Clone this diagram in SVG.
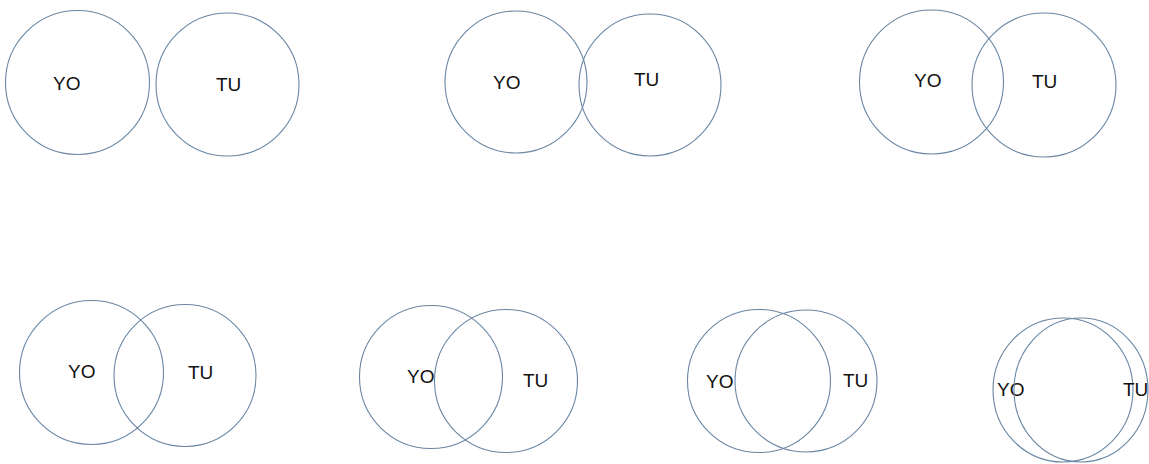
<svg xmlns="http://www.w3.org/2000/svg" width="1149" height="464" viewBox="0 0 1149 464">
<style>
.c{fill:none;stroke:#6a86a3;stroke-width:1.1}
.t{font-family:"Liberation Sans",Arial,sans-serif;font-size:19px;fill:#111}
</style>
<rect width="1149" height="464" fill="#fff"/>
<g id="connectors"/>
<g id="pair1">
<g id="p1-yo"><circle class="c" cx="77.5" cy="82.5" r="72"/><text class="t" x="53" y="90">YO</text></g>
<g id="p1-tu"><circle class="c" cx="227.5" cy="84.5" r="71.5"/><text class="t" x="216" y="91">TU</text></g>
</g>
<g id="pair2">
<g id="p2-yo"><circle class="c" cx="516" cy="82" r="71"/><text class="t" x="493" y="89">YO</text></g>
<g id="p2-tu"><circle class="c" cx="650" cy="85" r="71"/><text class="t" x="634" y="86">TU</text></g>
</g>
<g id="pair3">
<g id="p3-yo"><circle class="c" cx="931.5" cy="82" r="72"/><text class="t" x="914" y="87">YO</text></g>
<g id="p3-tu"><circle class="c" cx="1044" cy="85" r="72"/><text class="t" x="1032" y="88">TU</text></g>
</g>
<g id="pair4">
<g id="p4-yo"><circle class="c" cx="91.5" cy="372.5" r="72"/><text class="t" x="68" y="378">YO</text></g>
<g id="p4-tu"><circle class="c" cx="185" cy="375.5" r="71"/><text class="t" x="188" y="379">TU</text></g>
</g>
<g id="pair5">
<g id="p5-yo"><circle class="c" cx="431" cy="377" r="71.5"/><text class="t" x="407" y="383">YO</text></g>
<g id="p5-tu"><circle class="c" cx="506" cy="381" r="71.5"/><text class="t" x="523" y="387">TU</text></g>
</g>
<g id="pair6">
<g id="p6-yo"><circle class="c" cx="759" cy="381" r="71.5"/><text class="t" x="706" y="388">YO</text></g>
<g id="p6-tu"><circle class="c" cx="806" cy="381" r="71"/><text class="t" x="843" y="387">TU</text></g>
</g>
<g id="pair7">
<g id="p7-yo"><ellipse class="c" cx="1063" cy="390" rx="70" ry="72"/><text class="t" x="997" y="396">YO</text></g>
<g id="p7-tu"><ellipse class="c" cx="1081" cy="390" rx="67" ry="72"/><text class="t" x="1123" y="396">TU</text></g>
</g>
</svg>
